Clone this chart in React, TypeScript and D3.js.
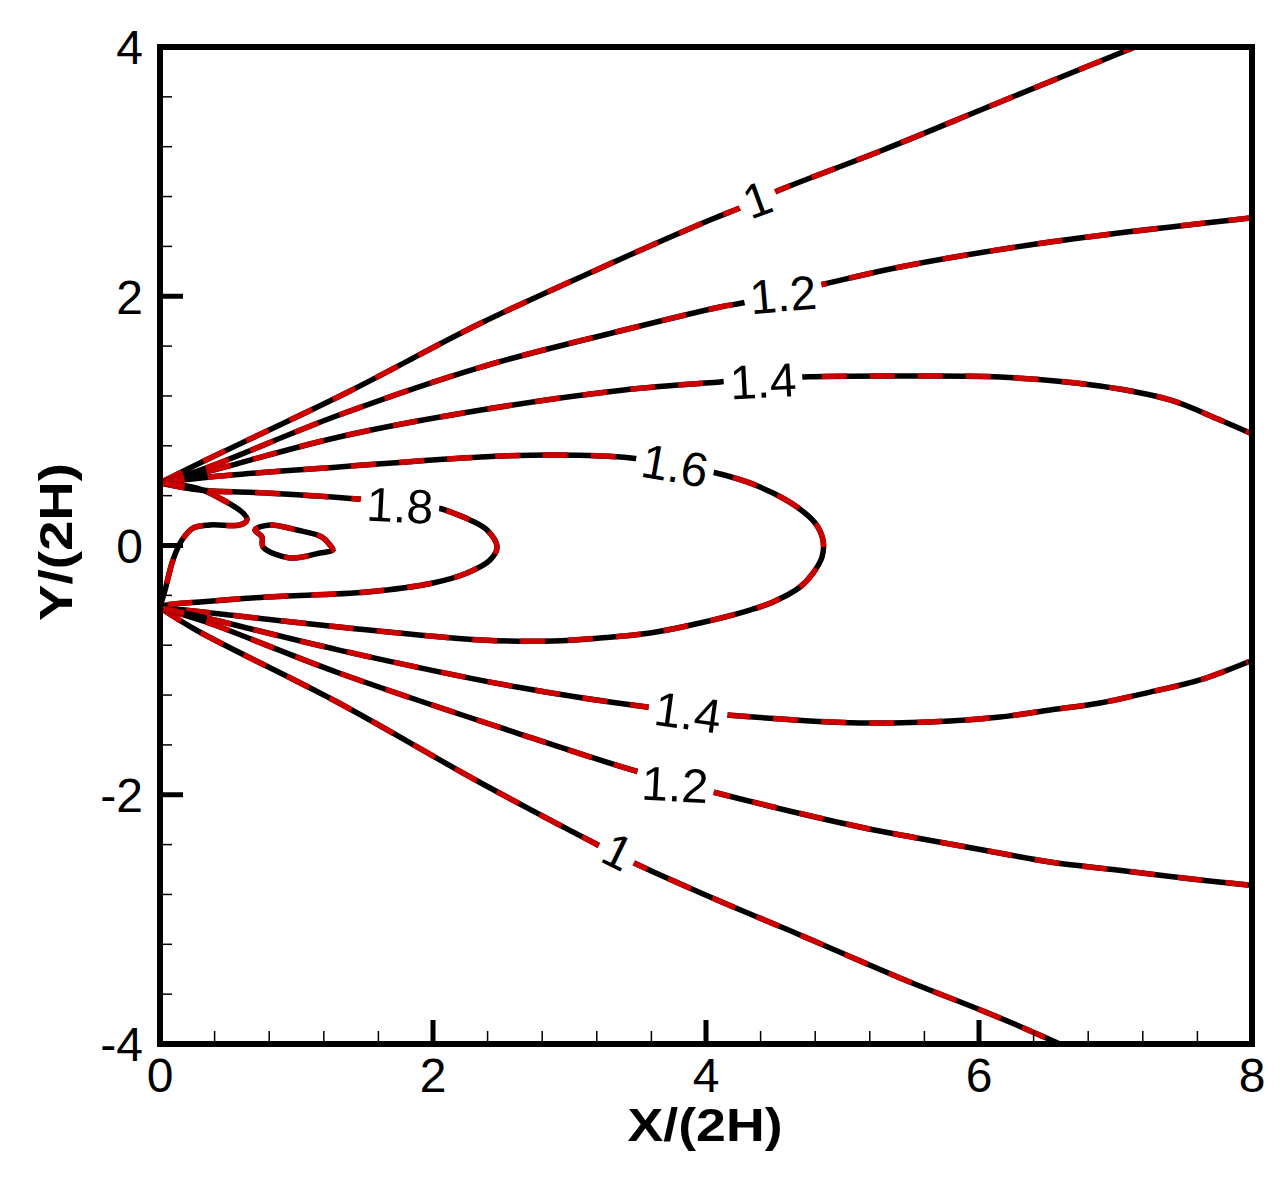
import React from 'react';
import * as d3 from 'd3';

type Pt = [number, number];

const W = 1284;
const H = 1177;

// Axis ticks
const xMajorTicks = [0, 2, 4, 6, 8];
const yMajorTicks = [-4, -2, 0, 2, 4];
const xTickLabels = ['0', '2', '4', '6', '8'];
const yTickLabels = ['-4', '-2', '0', '2', '4'];
const minorStep = 0.4;

// Contour lines (X/(2H), Y/(2H))
const contour1Upper: Pt[] = [
  [0, 0.502], [0.337, 0.686], [1.363, 1.224], [2.352, 1.785], [3.245, 2.235], [4.029, 2.612],
  [4.264, 2.716], [4.505, 2.837], [5.297, 3.174], [6.154, 3.559], [7.143, 4.0],
];
const contour12Upper: Pt[] = [
  [0, 0.502], [0.337, 0.622], [1.311, 1.047], [2.352, 1.432], [3.399, 1.729], [4.103, 1.914],
  [4.264, 1.946], [4.835, 2.09], [5.421, 2.235], [6.52, 2.435], [7.985, 2.628],
];
const contour14Upper: Pt[] = [
  [0, 0.502], [0.337, 0.59], [1.311, 0.871], [2.352, 1.087], [3.399, 1.248], [4.103, 1.312],
  [4.703, 1.352], [5.421, 1.36], [6.154, 1.352], [6.886, 1.28], [7.399, 1.168], [7.766, 1.007], [7.985, 0.903],
];
const contour16: Pt[] = [
  [0, 0.502], [0.366, 0.55], [1.311, 0.63], [2.352, 0.71], [2.879, 0.726], [3.451, 0.702],
  [4.044, 0.59], [4.3, 0.51], [4.491, 0.421], [4.667, 0.309], [4.799, 0.181], [4.857, 0.044],
  [4.85, -0.092], [4.784, -0.221], [4.689, -0.333], [4.491, -0.453], [4.322, -0.518], [3.956, -0.622],
  [3.59, -0.702], [3.223, -0.742], [2.879, -0.766], [2.352, -0.758], [1.311, -0.654], [0.183, -0.518], [0, -0.501],
];
const contour18: Pt[] = [
  [0, 0.502], [0.293, 0.445], [0.784, 0.421], [1.451, 0.373], [2.037, 0.301], [2.147, 0.261],
  [2.271, 0.205], [2.396, 0.124], [2.469, -0.012], [2.418, -0.116], [2.249, -0.221], [2.0, -0.301],
  [1.516, -0.373], [0.784, -0.413], [0.293, -0.453], [0.051, -0.477], [0, -0.493],
];
const contourInner: Pt[] = [
  [0, 0.502], [0.271, 0.461], [0.462, 0.365], [0.608, 0.261], [0.637, 0.205], [0.586, 0.165],
  [0.366, 0.165], [0.242, 0.14], [0.161, 0.044], [0.095, -0.116], [0.037, -0.357], [0, -0.493],
];
const contourLoop: Pt[] = [
  [0.696, 0.124], [0.806, 0.165], [1.004, 0.124], [1.187, 0.068], [1.245, 0.004], [1.267, -0.036],
  [1.172, -0.06], [0.952, -0.1], [0.755, -0.012], [0.747, 0.068],
];
const contour1Lower: Pt[] = [
  [0, -0.5], [0.264, -0.678], [1.311, -1.264], [2.352, -1.906], [3.209, -2.403], [3.458, -2.54],
  [4.081, -2.845], [4.689, -3.125], [5.421, -3.47], [6.154, -3.791], [6.593, -4.0],
];
const contour12Lower: Pt[] = [
  [0, -0.5], [0.337, -0.614], [1.311, -1.023], [2.615, -1.505], [3.458, -1.801], [4.051, -1.978],
  [5.128, -2.259], [5.546, -2.347], [6.029, -2.443], [6.52, -2.54], [7.011, -2.604], [7.495, -2.668], [7.971, -2.724],
];
const contour14Lower: Pt[] = [
  [0, -0.5], [0.337, -0.582], [1.311, -0.839], [2.615, -1.136], [3.568, -1.296], [4.154, -1.36],
  [5.128, -1.424], [5.788, -1.408], [6.154, -1.376], [6.52, -1.32], [6.886, -1.264], [7.253, -1.176],
  [7.619, -1.079], [7.971, -0.935],
];

const openContours: Pt[][] = [
  contour1Upper, contour12Upper, contour14Upper, contour16, contour18, contourInner,
  contour1Lower, contour12Lower, contour14Lower,
];
const closedContours: Pt[][] = [contourLoop];

// Contour labels: text, position, text rotation (deg), contour it sits on
const labelTexts = ['1', '1.2', '1.4', '1.6', '1.8', '1.4', '1.2', '1'];
const labelX = [4.374, 4.564, 4.418, 3.773, 1.758, 3.868, 3.773, 3.355];
const labelY = [2.78, 2.018, 1.324, 0.646, 0.325, -1.336, -1.914, -2.451];
const labelRot = [-20, -5, -3, 10, 3, 8, 3, 26];
const labelOn: Pt[][] = [
  contour1Upper, contour12Upper, contour14Upper, contour16, contour18,
  contour14Lower, contour12Lower, contour1Lower,
];

const FONT = "'Liberation Sans', Arial, Helvetica, sans-serif";

export default function App() {
  const x = d3.scaleLinear().domain([0, 8]).range([160, 1252]);
  const y = d3.scaleLinear().domain([-4, 4]).range([1044, 47]);

  const line = d3
    .line<Pt>()
    .x((d) => x(d[0]))
    .y((d) => y(d[1]))
    .curve(d3.curveCatmullRom.alpha(0.5));
  const closedLine = d3
    .line<Pt>()
    .x((d) => x(d[0]))
    .y((d) => y(d[1]))
    .curve(d3.curveCatmullRomClosed.alpha(0.5));

  const angleAt = (pts: Pt[], lx: number, ly: number) => {
    const px = x(lx);
    const py = y(ly);
    let best = Infinity;
    let ang = 0;
    for (let i = 0; i < pts.length - 1; i++) {
      const ax = x(pts[i][0]);
      const ay = y(pts[i][1]);
      const bx = x(pts[i + 1][0]);
      const by = y(pts[i + 1][1]);
      const dx = bx - ax;
      const dy = by - ay;
      const t = Math.max(0, Math.min(1, ((px - ax) * dx + (py - ay) * dy) / (dx * dx + dy * dy)));
      const d = Math.hypot(ax + t * dx - px, ay + t * dy - py);
      if (d < best) {
        best = d;
        ang = (Math.atan2(dy, dx) * 180) / Math.PI;
      }
    }
    if (ang > 90) ang -= 180;
    if (ang < -90) ang += 180;
    return ang;
  };

  const labelFont = 48;
  const textAdvance = (s: string) =>
    s.split('').reduce((a, c) => a + (c === '.' ? 0.278 : 0.556), 0) * labelFont;

  const labels = labelTexts.map((t, i) => ({
    text: t,
    px: x(labelX[i]),
    py: y(labelY[i]),
    rot: labelRot[i],
    gapAngle: angleAt(labelOn[i], labelX[i], labelY[i]),
    gapW: textAdvance(t) + 12,
  }));

  const xMinor = d3.range(0, 8.0001, minorStep).filter((v) => !xMajorTicks.some((m) => Math.abs(m - v) < 1e-6));
  const yMinor = d3.range(-4, 4.0001, minorStep).filter((v) => !yMajorTicks.some((m) => Math.abs(m - v) < 1e-6));

  const red = '#cc0000';
  const lw = 5.5;

  return (
    <svg
      width={W}
      height={H}
      style={{ position: 'absolute', left: 0, top: 0, background: '#ffffff' }}
      fontFamily={FONT}
    >
      <defs>
        <clipPath id="plotClip">
          <rect x={x(0)} y={y(4)} width={x(8) - x(0)} height={y(-4) - y(4)} />
        </clipPath>
        <mask id="labelGaps" maskUnits="userSpaceOnUse" x={0} y={0} width={W} height={H}>
          <rect x={0} y={0} width={W} height={H} fill="white" />
          {labels.map((l, i) => (
            <rect
              key={i}
              x={-l.gapW / 2}
              y={-22}
              width={l.gapW}
              height={44}
              fill="black"
              transform={`translate(${l.px},${l.py}) rotate(${l.gapAngle})`}
            />
          ))}
        </mask>
      </defs>

      <rect x={0} y={0} width={W} height={H} fill="#ffffff" />

      <g clipPath="url(#plotClip)">
        <g mask="url(#labelGaps)">
          {openContours.map((c, i) => (
            <g key={`o${i}`}>
              <path d={line(c) ?? ''} fill="none" stroke="#000" strokeWidth={lw} strokeLinejoin="round" strokeLinecap="round" />
              <path d={line(c) ?? ''} fill="none" stroke={red} strokeWidth={lw} strokeDasharray="25 23" strokeLinejoin="round" />
            </g>
          ))}
          {closedContours.map((c, i) => (
            <g key={`c${i}`}>
              <path d={closedLine(c) ?? ''} fill="none" stroke="#000" strokeWidth={lw} strokeLinejoin="round" />
              <path d={closedLine(c) ?? ''} fill="none" stroke={red} strokeWidth={lw} strokeDasharray="25 23" strokeLinejoin="round" />
            </g>
          ))}
        </g>
      </g>

      {labels.map((l, i) => (
        <text
          key={`t${i}`}
          transform={`translate(${l.px},${l.py}) rotate(${l.rot})`}
          textAnchor="middle"
          dy="0.36em"
          fontSize={labelFont}
          fill="#000"
        >
          {l.text}
        </text>
      ))}

      {/* minor ticks */}
      {xMinor.map((v, i) => (
        <line key={`xm${i}`} x1={x(v)} x2={x(v)} y1={y(-4)} y2={y(-4) - 13} stroke="#000" strokeWidth={1.5} />
      ))}
      {yMinor.map((v, i) => (
        <line key={`ym${i}`} x1={x(0)} x2={x(0) + 12} y1={y(v)} y2={y(v)} stroke="#000" strokeWidth={1.5} />
      ))}
      {/* major ticks */}
      {xMajorTicks.map((v, i) => (
        <line key={`xM${i}`} x1={x(v)} x2={x(v)} y1={y(-4)} y2={y(-4) - 24} stroke="#000" strokeWidth={5} />
      ))}
      {yMajorTicks.map((v, i) => (
        <line key={`yM${i}`} x1={x(0)} x2={x(0) + 23} y1={y(v)} y2={y(v)} stroke="#000" strokeWidth={5} />
      ))}

      {/* frame */}
      <rect
        x={x(0)}
        y={y(4)}
        width={x(8) - x(0)}
        height={y(-4) - y(4)}
        fill="none"
        stroke="#000"
        strokeWidth={6}
        strokeLinejoin="miter"
      />

      {/* tick labels */}
      {xMajorTicks.map((v, i) => (
        <text key={`xl${i}`} x={x(v)} y={1092} textAnchor="middle" fontSize={48} fill="#000">
          {xTickLabels[i]}
        </text>
      ))}
      {yMajorTicks.map((v, i) => (
        <text key={`yl${i}`} x={143} y={y(v)} dy="0.36em" textAnchor="end" fontSize={48} fill="#000">
          {yTickLabels[i]}
        </text>
      ))}

      {/* axis titles */}
      <text
        x={705}
        y={1141}
        textAnchor="middle"
        fontSize={46}
        fontWeight="bold"
        fill="#000"
        textLength={155}
        lengthAdjust="spacingAndGlyphs"
      >
        X/(2H)
      </text>
      <text
        transform="translate(72,542) rotate(-90)"
        textAnchor="middle"
        fontSize={46}
        fontWeight="bold"
        fill="#000"
        textLength={158}
        lengthAdjust="spacingAndGlyphs"
      >
        Y/(2H)
      </text>
    </svg>
  );
}
